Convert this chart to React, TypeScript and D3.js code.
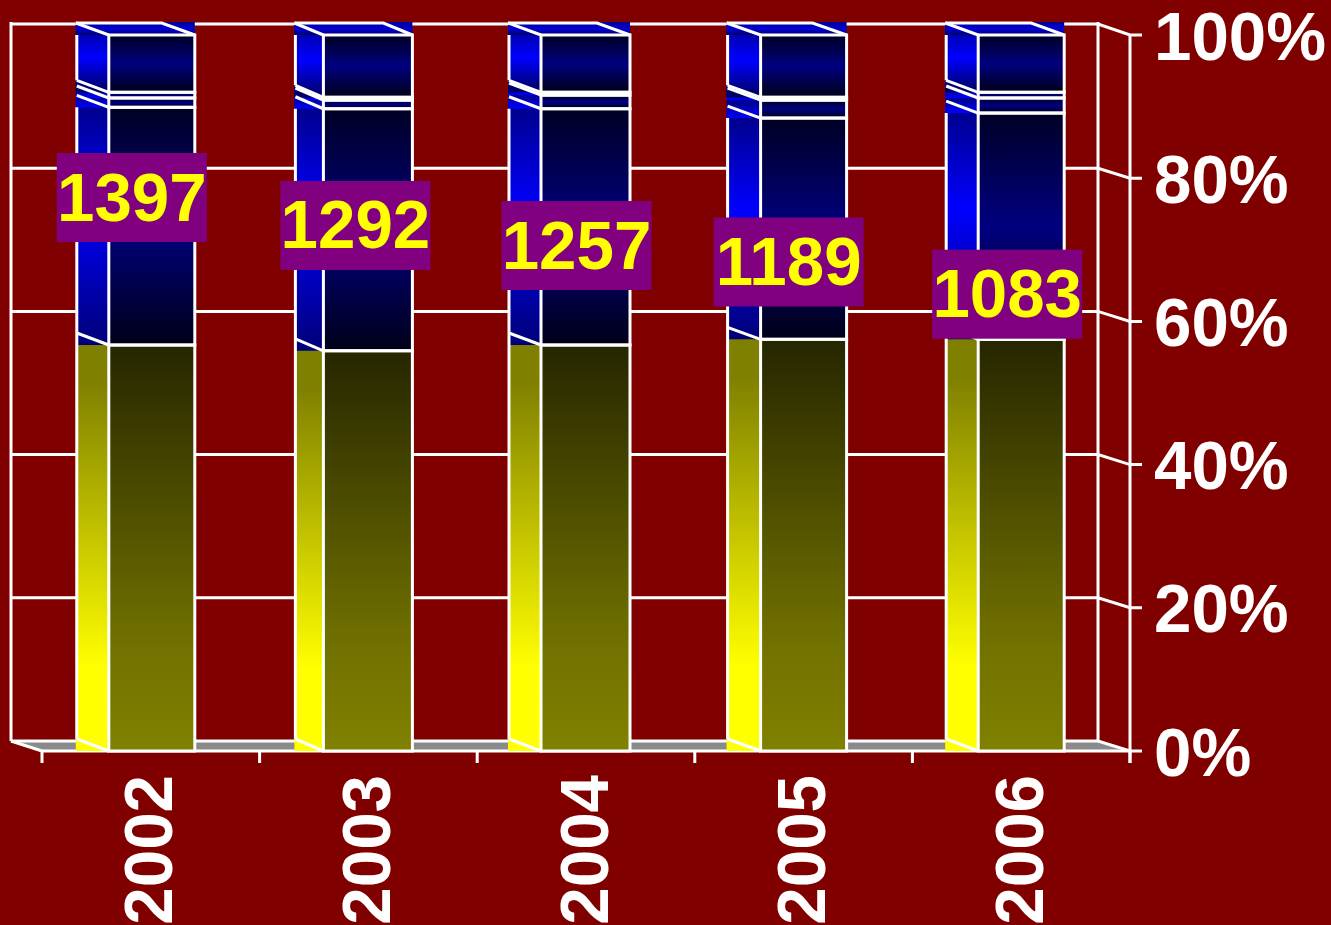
import React from "react";
import * as d3 from "d3";

const years = ["2002", "2003", "2004", "2005", "2006"];
const totals = [1397, 1292, 1257, 1189, 1083];
const olive = [56.7, 55.9, 56.7, 57.5, 57.5];
const blueLarge = [33.2, 33.8, 33.0, 30.9, 31.6];
const blueThinA = [1.3, 1.2, 1.9, 2.5, 2.1];
const blueThinB = [0.8, 0.4, 0.4, 0.4, 0.8];
const blueTop = [8.0, 8.7, 8.0, 8.7, 8.0];
const labelLevels = [77.3, 73.4, 70.6, 68.3, 63.8];
const labelShift = [-19, -13, -9.5, -15, -14];
const barShift = [1, -2, -2, 0, 0];
const barWidths = [86, 89, 89, 86, 86];
const sideWidths = [33, 29, 33, 34, 33];
const percentTicks = [0, 20, 40, 60, 80, 100];

const W = 1331, H = 925;
const DX = 32, DY = 12;
const SW = 3;
const FS = 69;
const SQUEEZE = 0.975;
const FONT = "'Liberation Sans', Arial, sans-serif";
const keys = ["olive", "large", "thinA", "thinB", "top"];
const rows = years.map((year, i) => ({
  year, olive: olive[i], large: blueLarge[i], thinA: blueThinA[i], thinB: blueThinB[i], top: blueTop[i],
}));
const stacked = d3.stack<any>().keys(keys)(rows);

const x = d3.scaleBand<string>().domain(years).range([42, 1130]);
const y = d3.scaleLinear().domain([0, 100]).range([751, 35]);

const grad = (id: string, stops: [number, string][]) => (
  <linearGradient id={id} key={id} x1="0" y1="0" x2="0" y2="1">
    {stops.map(([o, c], i) => <stop key={i} offset={o} stopColor={c} />)}
  </linearGradient>
);

export default function App() {
  const sideFill = (k: string) => k === "olive" ? "url(#sideOlive)" : k === "top" ? "url(#sideTop)" : k === "large" ? "url(#sideBlue)" : "url(#sideThin)";
  const frontFill = (k: string) => k === "olive" ? "url(#frontOlive)" : "url(#frontBlue)";
  const line = { stroke: "#fff", strokeWidth: SW, fill: "none" } as const;
  return (
    <svg width={W} height={H} viewBox={`0 0 ${W} ${H}`} style={{ position: "fixed", left: 0, top: 0, display: "block" }}>
      <defs>
        {grad("sideOlive", [[0, "#808000"], [0.12, "#808000"], [0.8, "#ffff00"], [1, "#ffff00"]])}
        {grad("frontOlive", [[0, "#262600"], [0.75, "#727200"], [1, "#808000"]])}
        {grad("frontBlue", [[0, "#000024"], [0.5, "#000080"], [1, "#000018"]])}
        {grad("sideBlue", [[0, "#000080"], [0.45, "#0000ff"], [1, "#000078"]])}
        {grad("sideTop", [[0, "#000090"], [0.5, "#0000ff"], [0.85, "#000090"], [1, "#000050"]])}
        {grad("sideThin", [[0, "#000050"], [0.55, "#0000a0"], [1, "#0000ff"]])}
        {grad("topFace", [[0, "#000090"], [0.55, "#0000d8"], [1, "#000060"]])}
      </defs>
      <rect width={W} height={H} fill="#800000" />

      <polygon points={`${42 - DX + 1},${y(0) - DY + 2} ${42},${y(0)} ${1130},${y(0)} ${1130 - DX},${y(0) - DY + 2}`} fill="#8a8a8a" />

      {percentTicks.map(t => (
        <g key={t}>
          <polyline points={`${42 - DX + 1},${y(t) - DY + 2 - (t === 100 ? 1 : 0)} ${1130 - DX},${y(t) - DY + 2 - (t === 100 ? 1 : 0)} ${1130},${y(t)} ${1142},${y(t)}`} {...line} />
          <text transform={`translate(1154,${y(t) + 24.5}) scale(${SQUEEZE},1)`} fill="#fff" fontFamily={FONT} fontWeight="bold" fontSize={FS}>{t}%</text>
        </g>
      ))}
      <line x1={11} x2={11} y1={y(100) - DY - 1} y2={y(0) - DY + 2} {...line} />
      <line x1={1098} x2={1098} y1={y(100) - DY - 1} y2={y(0) - DY + 2} {...line} />
      <line x1={11} y1={y(0) - DY + 2} x2={42} y2={y(0)} {...line} />
      <line x1={42} x2={1130} y1={y(0)} y2={y(0)} {...line} />
      <line x1={1130} x2={1130} y1={y(100)} y2={y(0) + 12} {...line} />
      {d3.range(6).map(i => {
        const px = 42 + i * x.step();
        return <line key={i} x1={px} x2={px} y1={y(0)} y2={y(0) + 12} {...line} />;
      })}

      {years.map((yr, i) => {
        const bw = barWidths[i];
        const sw = sideWidths[i];
        const left = x(yr)! + x.bandwidth() / 2 - 43 + barShift[i];
        const segs = stacked.map(s => ({ k: s.key, y0: y(s[i][0]), y1: y(s[i][1]) }));
        return (
          <g key={yr}>
            {segs.map(s => (
              <rect key={s.k} x={left - sw} y={s.y1 - DY} width={sw} height={s.y0 - s.y1 + DY} fill={sideFill(s.k)} />
            ))}
            {segs.map(s => (
              <rect key={s.k} x={left} y={s.y1} width={bw} height={s.y0 - s.y1} fill={frontFill(s.k)} />
            ))}
            <rect x={left - sw} y={y(100) - DY - 1} width={bw + sw} height={DY + 1} fill="url(#topFace)" />
            <polyline points={`${left - sw},${y(100) - DY} ${left + bw - sw},${y(100) - DY} ${left + bw},${y(100)}`} {...line} />
            <line x1={left - sw} y1={y(100) - DY} x2={left} y2={y(100)} {...line} />
            <line x1={left - sw + 1} x2={left - sw + 1} y1={y(100)} y2={y(stacked[3][i][1]) - DY} {...line} />
            <line x1={left - sw + 1} x2={left - sw + 1} y1={y(stacked[1][i][1])} y2={y(0) - DY} {...line} />
            {segs.map(s => (
              <g key={s.k}>
                <rect x={left} y={s.y1} width={bw} height={s.y0 - s.y1} {...line} />
                {s.k !== "olive" && <line x1={left - sw + 1} y1={s.y0 - DY} x2={left} y2={s.y0} {...line} />}
              </g>
            ))}
            <line x1={left - sw + 1} y1={y(0) - DY} x2={left} y2={y(0)} {...line} />
          </g>
        );
      })}

      {years.map(yr => {
        const cx = x(yr)! + x.bandwidth() / 2;
        return (
          <text key={yr} transform={`translate(${cx + 21.5},775) rotate(-90) scale(${SQUEEZE},1)`} textAnchor="end" fill="#fff" fontFamily={FONT} fontWeight="bold" fontSize={FS}>{yr}</text>
        );
      })}

      {totals.map((v, i) => {
        const cx = x(years[i])! + x.bandwidth() / 2 + labelShift[i];
        const cy = y(labelLevels[i]);
        return (
          <g key={v}>
            <rect x={cx - 75} y={cy - 44.5} width={150} height={89} fill="#800080" />
            <text transform={`translate(${cx},${cy + 23}) scale(${SQUEEZE},1)`} textAnchor="middle" fill="#ffff00" fontFamily={FONT} fontWeight="bold" fontSize={FS}>{v}</text>
          </g>
        );
      })}
    </svg>
  );
}
